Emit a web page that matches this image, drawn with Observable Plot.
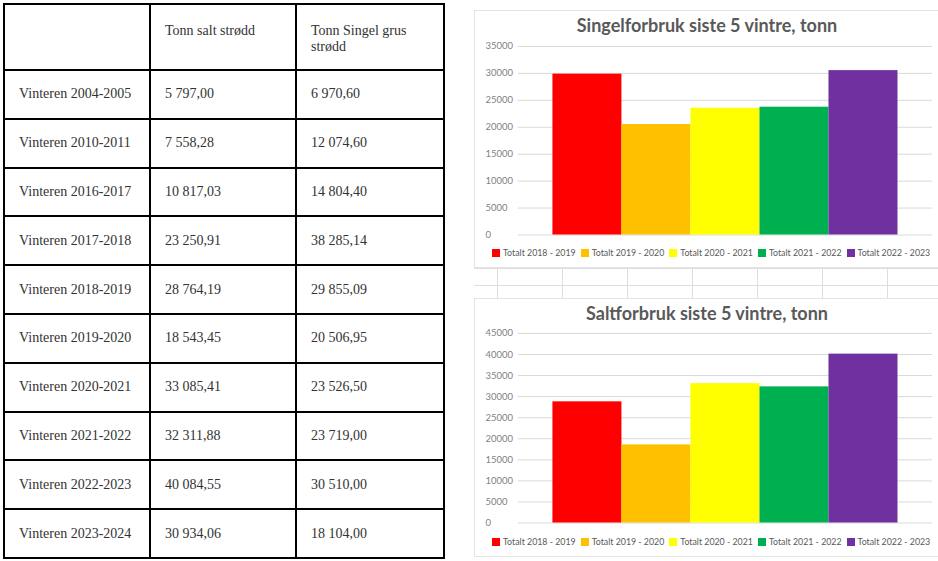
<!DOCTYPE html>
<html>
<head>
<meta charset="utf-8">
<script src="https://cdn.jsdelivr.net/npm/d3@7"></script>
<script src="https://cdn.jsdelivr.net/npm/@observablehq/plot@0.6"></script>
<style>
  html, body { margin: 0; padding: 0; background: #fff; }
  #page { position: relative; width: 938px; height: 561px; overflow: hidden; }
  table.vt { position: absolute; left: 3px; top: 3px; width: 440px; border-collapse: collapse; table-layout: fixed;
    font-family: "Liberation Serif", "DejaVu Serif", serif; font-size: 14px; color: #333; }
  table.vt td { border: 2px solid #000; padding: 0 0 0 14px; vertical-align: middle; line-height: 16px; }
  table.vt tr.head td { vertical-align: top; padding-top: 18px; }
  .chartbox { position: absolute; left: 474px; width: 464px; border: 1px solid #e4e4e4; border-right: none; box-sizing: border-box; background: #fff; }
  .ctitle { position: absolute; left: 0; width: 464px; text-align: center; font-family: Lato, "Open Sans", sans-serif; font-weight: bold; font-size: 18px; color: #595959; line-height: 20px; }
  .chartbox svg { position: absolute; left: -1px; top: -1px; }
  .clegend { position: absolute; left: 17px; width: 450px; display: flex; flex-wrap: nowrap; white-space: nowrap;
    font-family: Lato, "Open Sans", sans-serif; font-size: 8.8px; color: #595959; line-height: 12px; }
  .litem { display: inline-flex; align-items: center; margin-right: 5px; }
  .lsw { width: 8px; height: 8px; margin-right: 3px; display: inline-block; }
  .sheet { position: absolute; left: 474px; top: 268px; width: 464px; height: 30px; }
  .hl { position: absolute; height: 1px; background: #dedede; left: 0; width: 464px; }
  .vl { position: absolute; width: 1px; background: #dedede; top: 0; height: 30px; }
</style>
</head>
<body>
<div id="page"></div>
<script>
// ---- Table data ----
const tableWinters = ["Vinteren 2004-2005","Vinteren 2010-2011","Vinteren 2016-2017","Vinteren 2017-2018","Vinteren 2018-2019","Vinteren 2019-2020","Vinteren 2020-2021","Vinteren 2021-2022","Vinteren 2022-2023","Vinteren 2023-2024"];
const tableSalt = [5797.00, 7558.28, 10817.03, 23250.91, 28764.19, 18543.45, 33085.41, 32311.88, 40084.55, 30934.06];
const tableSingel = [6970.60, 12074.60, 14804.40, 38285.14, 29855.09, 20506.95, 23526.50, 23719.00, 30510.00, 18104.00];
const tableHeaders = ["", "Tonn salt strødd", "Tonn Singel grus strødd"];

// ---- Chart data ----
const chartWinters = ["Totalt 2018 - 2019","Totalt 2019 - 2020","Totalt 2020 - 2021","Totalt 2021 - 2022","Totalt 2022 - 2023"];
const singelValues = [29855.09, 20506.95, 23526.50, 23719.00, 30510.00];
const saltValues = [28764.19, 18543.45, 33085.41, 32311.88, 40084.55];
const barColors = ["#FF0000","#FFC000","#FFFF00","#00B050","#7030A0"];
const singelTitle = "Singelforbruk siste 5 vintre, tonn";
const saltTitle = "Saltforbruk siste 5 vintre, tonn";
const singelTicks = [0,5000,10000,15000,20000,25000,30000,35000];
const saltTicks = [0,5000,10000,15000,20000,25000,30000,35000,40000,45000];

const page = document.getElementById("page");
const nf = d3.formatLocale({decimal: ",", thousands: "\u00a0", grouping: [3], currency: ["", ""]}).format(",.2f");

// ---- Table ----
const table = document.createElement("table");
table.className = "vt";
const cg = document.createElement("colgroup");
[146, 146, 148].forEach(w => { const c = document.createElement("col"); c.style.width = w + "px"; cg.appendChild(c); });
table.appendChild(cg);
const hr = document.createElement("tr");
hr.className = "head";
hr.style.height = "66px";
tableHeaders.forEach(h => { const td = document.createElement("td"); td.textContent = h; hr.appendChild(td); });
table.appendChild(hr);
tableWinters.forEach((w, i) => {
  const tr = document.createElement("tr");
  tr.style.height = "48.8px";
  [w, nf(tableSalt[i]), nf(tableSingel[i])].forEach(t => { const td = document.createElement("td"); td.textContent = t; tr.appendChild(td); });
  table.appendChild(tr);
});
page.appendChild(table);

// ---- Spreadsheet grid between charts ----
const sheet = document.createElement("div");
sheet.className = "sheet";
[0, 17].forEach(y => { const d = document.createElement("div"); d.className = "hl"; d.style.top = y + "px"; sheet.appendChild(d); });
[23, 88, 153, 218, 283, 348, 413].forEach(x => { const d = document.createElement("div"); d.className = "vl"; d.style.left = x + "px"; sheet.appendChild(d); });
page.appendChild(sheet);

// ---- Charts ----
function makeChart(top, h, title, values, ticks, marginTop, marginBottom) {
  const box = document.createElement("div");
  box.className = "chartbox";
  box.style.top = top + "px";
  box.style.height = h + "px";
  const data = chartWinters.map((w, i) => ({winter: w, value: values[i]}));
  const chart = Plot.plot({
    width: 464, height: h,
    marginLeft: 44, marginRight: 5, marginTop, marginBottom,
    style: {fontFamily: "Lato, 'Open Sans', sans-serif", fontSize: "9.5px", color: "#7f7f7f", background: "transparent"},
    x: {domain: chartWinters, paddingInner: 0, paddingOuter: 0.5, round: false, axis: null},
    y: {domain: [0, ticks[ticks.length - 1]], axis: null},
    color: {domain: chartWinters, range: barColors},
    marks: [
      Plot.gridY(ticks, {stroke: "#d9d9d9", strokeOpacity: 1, strokeWidth: 1}),
      Plot.axisY(ticks, {tickSize: 0, tickPadding: 33, textAnchor: "start", tickFormat: d => String(d), label: null}),
      Plot.barY(data, {x: "winter", y: "value", fill: "winter"})
    ]
  });
  box.appendChild(chart);
  const t = document.createElement("div");
  t.className = "ctitle";
  t.style.top = "4px";
  t.textContent = title;
  box.appendChild(t);
  const lw = document.createElement("div");
  lw.className = "clegend";
  lw.style.top = (h - 22) + "px";
  chartWinters.forEach((w, i) => {
    const it = document.createElement("span");
    it.className = "litem";
    const sw = document.createElement("span");
    sw.className = "lsw";
    sw.style.background = chart.scale("color").apply(w);
    it.appendChild(sw);
    it.appendChild(document.createTextNode(w));
    lw.appendChild(it);
  });
  box.appendChild(lw);
  page.appendChild(box);
}
makeChart(10, 258, singelTitle, singelValues, singelTicks, 36, 33);
makeChart(298, 259, saltTitle, saltValues, saltTicks, 35, 34);
</script>
</body>
</html>
